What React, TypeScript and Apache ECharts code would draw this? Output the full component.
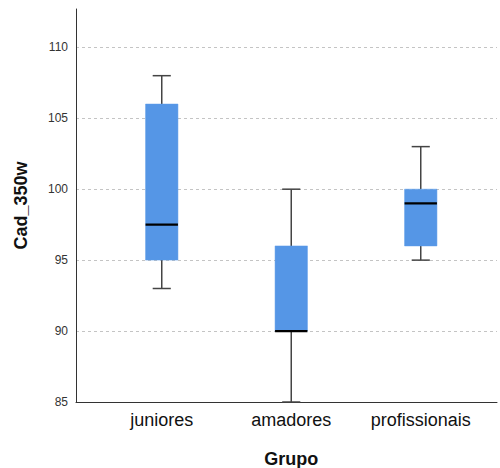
import React, { useEffect, useRef } from "react";
import * as echarts from "echarts";

const categories = ["juniores", "amadores", "profissionais"];
// [min, Q1, median, Q3, max]
const boxValues = [
  [93, 95, 97.5, 106, 108],
  [85, 90, 90, 96, 100],
  [95, 96, 99, 100, 103],
];
const yMin = 85;
const yMax = 112.7;
const yInterval = 5;

const FONT = "'Liberation Sans', Arial, sans-serif";

export default function App() {
  const ref = useRef<HTMLDivElement>(null);
  useEffect(() => {
    if (!ref.current) return;
    const chart = echarts.init(ref.current, null, { renderer: "svg" });
    const data = boxValues.map((v, i) => [i, ...v]);
    chart.setOption({
      animation: false,
      backgroundColor: "#ffffff",
      textStyle: { fontFamily: FONT },
      grid: [
        { left: 76, right: 3, top: 9, bottom: 66, outerBoundsMode: "none", containLabel: false },
        { left: 97, right: 14.5, top: 9, bottom: 66, outerBoundsMode: "none", containLabel: false },
      ],
      xAxis: [
        {
          type: "value",
          gridIndex: 0,
          min: 0,
          max: 1,
          axisLine: { show: true, lineStyle: { color: "#333", width: 1 } },
          axisTick: { show: false },
          axisLabel: { show: false },
          splitLine: { show: false },
        },
        {
          type: "category",
          gridIndex: 1,
          data: categories,
          axisLine: { show: false },
          axisTick: { show: false },
          axisLabel: { interval: 0, fontSize: 18, color: "#111", margin: 9, fontFamily: FONT },
          name: "Grupo",
          nameLocation: "middle",
          nameGap: 48,
          nameTextStyle: { fontSize: 18, fontWeight: "bold", color: "#111", fontFamily: FONT },
        },
      ],
      yAxis: [
        {
          type: "value",
          gridIndex: 0,
          min: yMin,
          max: yMax,
          interval: yInterval,
          axisLine: { show: true, lineStyle: { color: "#333", width: 1 } },
          axisTick: { show: false },
          axisLabel: {
            fontSize: 12,
            color: "#333",
            margin: 8,
            showMaxLabel: false,
            fontFamily: FONT,
          },
          splitLine: {
            show: true,
            showMinLine: false,
            showMaxLine: false,
            lineStyle: { color: "#c4c4c4", type: [3, 3], width: 1 },
          },
          name: "Cad_350w",
          nameLocation: "middle",
          nameGap: 46,
          nameTextStyle: { fontSize: 18, fontWeight: "bold", color: "#111", fontFamily: FONT },
        },
        {
          type: "value",
          gridIndex: 1,
          min: yMin,
          max: yMax,
          show: false,
          splitLine: { show: false },
        },
      ],
      series: [
        {
          type: "custom",
          xAxisIndex: 1,
          yAxisIndex: 1,
          data,
          encode: { x: 0, y: [1, 2, 3, 4, 5] },
          renderItem: (params: any, api: any) => {
            const x = api.value(0);
            const mn = api.coord([x, api.value(1)]);
            const q1 = api.coord([x, api.value(2)]);
            const md = api.coord([x, api.value(3)]);
            const q3 = api.coord([x, api.value(4)]);
            const mx = api.coord([x, api.value(5)]);
            const band = api.size([1, 0])[0];
            const bw = band * 0.25;
            const cw = band * 0.14;
            const cx = mn[0];
            const wStyle = { stroke: "#444", lineWidth: 1.5 };
            return {
              type: "group",
              children: [
                { type: "line", shape: { x1: cx, y1: mn[1], x2: cx, y2: q1[1] }, style: wStyle },
                { type: "line", shape: { x1: cx, y1: q3[1], x2: cx, y2: mx[1] }, style: wStyle },
                { type: "line", shape: { x1: cx - cw / 2, y1: mn[1], x2: cx + cw / 2, y2: mn[1] }, style: wStyle },
                { type: "line", shape: { x1: cx - cw / 2, y1: mx[1], x2: cx + cw / 2, y2: mx[1] }, style: wStyle },
                {
                  type: "rect",
                  shape: { x: cx - bw / 2, y: q3[1], width: bw, height: q1[1] - q3[1] },
                  style: { fill: "#5596e6", stroke: "#5a9ae8", lineWidth: 0.5 },
                },
                {
                  type: "line",
                  shape: { x1: cx - bw / 2, y1: md[1], x2: cx + bw / 2, y2: md[1] },
                  style: { stroke: "#000", lineWidth: 2.2 },
                },
              ],
            };
          },
        },
      ],
    });
    return () => chart.dispose();
  }, []);
  return (
    <div
      ref={ref}
      style={{ position: "fixed", left: 0, top: 0, width: 500, height: 468 }}
    />
  );
}
